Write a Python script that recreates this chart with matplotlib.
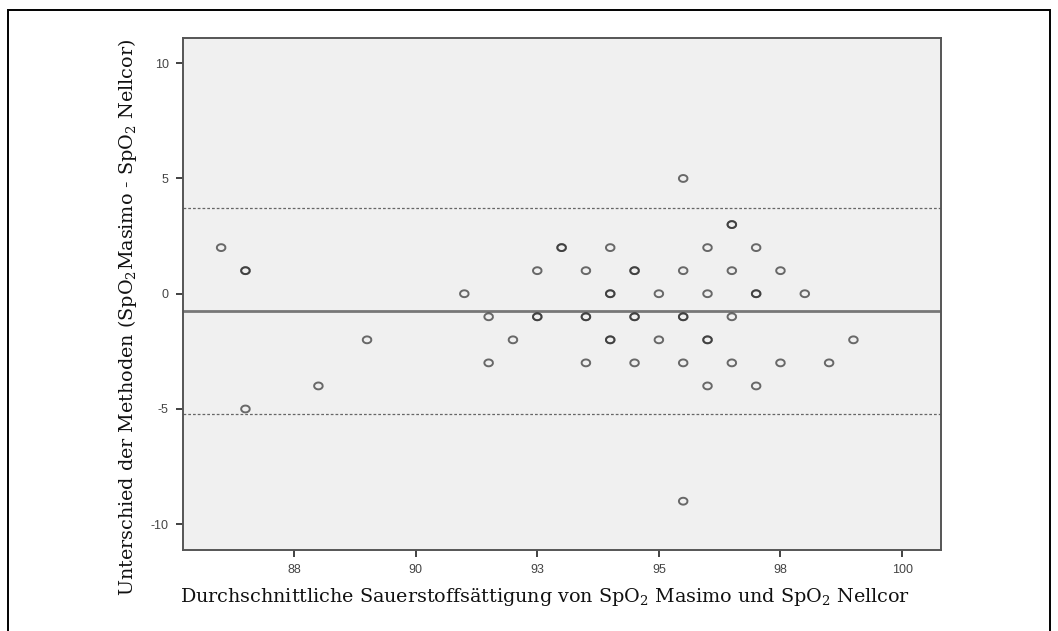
import numpy as np
import matplotlib
matplotlib.use('Agg')
import matplotlib.pyplot as plt
from matplotlib.patches import Rectangle

# Bland-Altman: Mittelwert beider Methoden vs. Differenz (Masimo - Nellcor)
x_mean = [86.0,
          86.5, 86.5, 86.5,
          88.0,
          89.0,
          91.0,
          91.5, 91.5,
          92.0,
          92.5, 92.5, 92.5,
          93.0, 93.0,
          93.5, 93.5, 93.5, 93.5,
          94.0, 94.0, 94.0, 94.0, 94.0,
          94.5, 94.5, 94.5, 94.5, 94.5,
          95.0, 95.0,
          95.5, 95.5, 95.5, 95.5, 95.5, 95.5,
          96.0, 96.0, 96.0, 96.0, 96.0,
          96.5, 96.5, 96.5, 96.5, 96.5,
          97.0, 97.0, 97.0, 97.0,
          97.5, 97.5,
          98.0,
          98.5,
          99.0]
y_diff = [2,
          1, 1, -5,
          -4,
          -2,
          0,
          -1, -3,
          -2,
          1, -1, -1,
          2, 2,
          1, -1, -1, -3,
          2, 0, 0, -2, -2,
          1, 1, -1, -1, -3,
          0, -2,
          5, 1, -1, -1, -3, -9,
          2, 0, -2, -2, -4,
          3, 3, 1, -1, -3,
          2, 0, 0, -4,
          1, -3,
          0,
          -3,
          -2]

mean_diff = -0.76
upper_loa = 3.71
lower_loa = -5.22

x_ticks = [87.5, 90, 92.5, 95, 97.5, 100]
x_ticklabels = ['88', '90', '93', '95', '98', '100']
y_ticks = [-10, -5, 0, 5, 10]
y_ticklabels = ['-10', '-5', '0', '5', '10']

plt.rcParams['mathtext.default'] = 'regular'

fig = plt.figure(figsize=(10.58, 6.31), dpi=100)
ax = fig.add_axes([0.1727, 0.1279, 0.7167, 0.8114])
ax.set_facecolor('#f0f0f0')

# leicht ovale Kreise wie im SPSS-Output
t = np.linspace(0, 2 * np.pi, 41)
ring = np.column_stack([np.cos(t), 0.8 * np.sin(t)])
ax.scatter(x_mean, y_diff, s=38, marker=ring, facecolors='none',
           edgecolors='#333333', linewidths=1.4, alpha=0.72, zorder=3)

ax.axhline(mean_diff, color='#777777', lw=2.0, zorder=2)
ax.axhline(upper_loa, color='#666666', lw=0.9, ls=(0, (2.2, 1.6)), zorder=2)
ax.axhline(lower_loa, color='#666666', lw=0.9, ls=(0, (2.2, 1.6)), zorder=2)

ax.set_xlim(85.21, 100.8)
ax.set_ylim(-11.13, 11.08)
ax.set_xticks(x_ticks)
ax.set_xticklabels(x_ticklabels)
ax.set_yticks(y_ticks)
ax.set_yticklabels(y_ticklabels)
ax.tick_params(length=5, width=1.3, color='#333333', labelsize=9,
               labelcolor='#444444', pad=5)
for lab in ax.get_xticklabels() + ax.get_yticklabels():
    lab.set_family('Liberation Sans')
for sp in ax.spines.values():
    sp.set_color('#555555')
    sp.set_linewidth(1.4)

lab_font = dict(family='DejaVu Serif', size=13.8, color='#111111')
ax.set_xlabel(r'Durchschnittliche Sauerstoffsättigung von SpO$_2$ Masimo und SpO$_2$ Nellcor',
              **lab_font)
ax.set_ylabel(r'Unterschied der Methoden (SpO$_2$Masimo - SpO$_2$ Nellcor)', **lab_font)
ax.xaxis.set_label_coords(0.478, -0.07)
ax.yaxis.set_label_coords(-0.058, 0.455)

# schwarzer Rahmen um die ganze Grafik
fig.patches.append(Rectangle((8 / 1058, -0.01), 1042 / 1058, 1.01 - 10 / 631,
                             transform=fig.transFigure, fill=False,
                             edgecolor='black', lw=1.4))

fig.savefig('out.png', dpi=100)
